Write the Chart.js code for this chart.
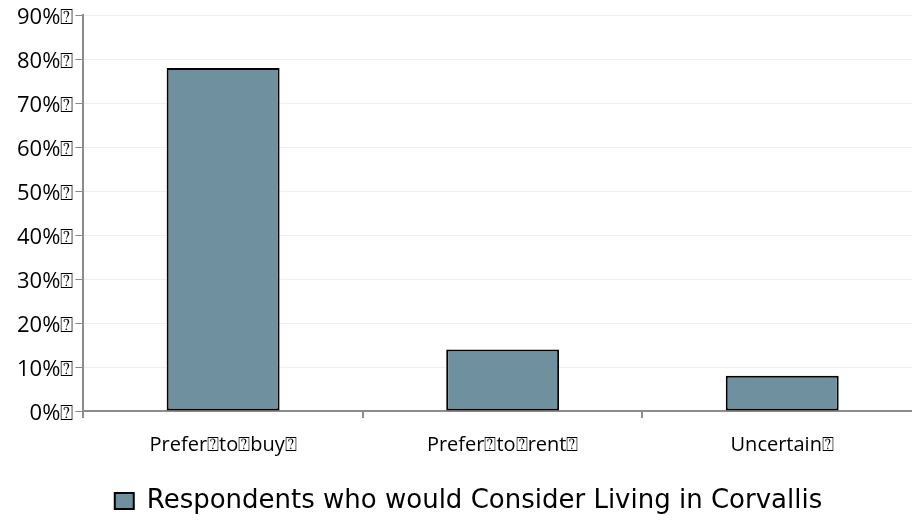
<!DOCTYPE html>
<html>
<head>
<meta charset="utf-8">
<script src="https://cdn.jsdelivr.net/npm/chart.js@4/dist/chart.umd.min.js"></script>
<style>
html,body{margin:0;padding:0;background:#fff;overflow:hidden;width:912px;height:529px;}
#wrap{position:absolute;left:0;top:0;width:922px;height:529px;}
</style>
</head>
<body>
<div id="wrap"><canvas id="c"></canvas></div>
<script>
const TOFU = '\u2370';
const categories = ['Prefer' + TOFU + 'to' + TOFU + 'buy' + TOFU, 'Prefer' + TOFU + 'to' + TOFU + 'rent' + TOFU, 'Uncertain' + TOFU];
const seriesName = 'Respondents who would Consider Living in Corvallis';
const seriesValues = [78, 14, 8];
const yTickValues = [0, 10, 20, 30, 40, 50, 60, 70, 80, 90];
const yTickSuffix = '%' + TOFU;

new Chart(document.getElementById('c'), {
  type: 'bar',
  data: {
    labels: categories,
    datasets: [{
      label: seriesName,
      data: seriesValues,
      backgroundColor: '#6E909F',
      borderColor: '#000000',
      borderWidth: 2,
      borderSkipped: false,
      barPercentage: 0.404,
      categoryPercentage: 1
    }]
  },
  options: {
    responsive: true,
    maintainAspectRatio: false,
    animation: false,
    layout: { padding: { top: 8, left: 15, right: 0, bottom: 5 } },
    plugins: {
      tooltip: { enabled: false },
      legend: {
        position: 'bottom',
        labels: {
          color: '#000',
          font: { family: 'DejaVu Sans', size: 26 },
          boxWidth: 19,
          boxHeight: 16,
          padding: 16
        }
      }
    },
    scales: {
      x: {
        grid: { drawOnChartArea: false, drawTicks: true, tickLength: 7, color: '#8C8C8C', lineWidth: 2, offset: true },
        border: { color: '#8C8C8C', width: 2 },
        ticks: { color: '#000', font: { family: 'Open Sans', size: 20 }, padding: 15, maxRotation: 0 }
      },
      y: {
        min: 0, max: 90,
        afterBuildTicks: (axis) => { axis.ticks = yTickValues.map(v => ({ value: v })); },
        grid: { color: '#EFEFEF', lineWidth: 1, tickColor: '#8C8C8C', tickLength: 8 },
        border: { color: '#8C8C8C', width: 2 },
        ticks: { color: '#000', font: { family: 'Open Sans', size: 22 }, padding: 2, labelOffset: 3, callback: (v) => v + yTickSuffix }
      }
    }
  }
});
</script>
</body>
</html>
